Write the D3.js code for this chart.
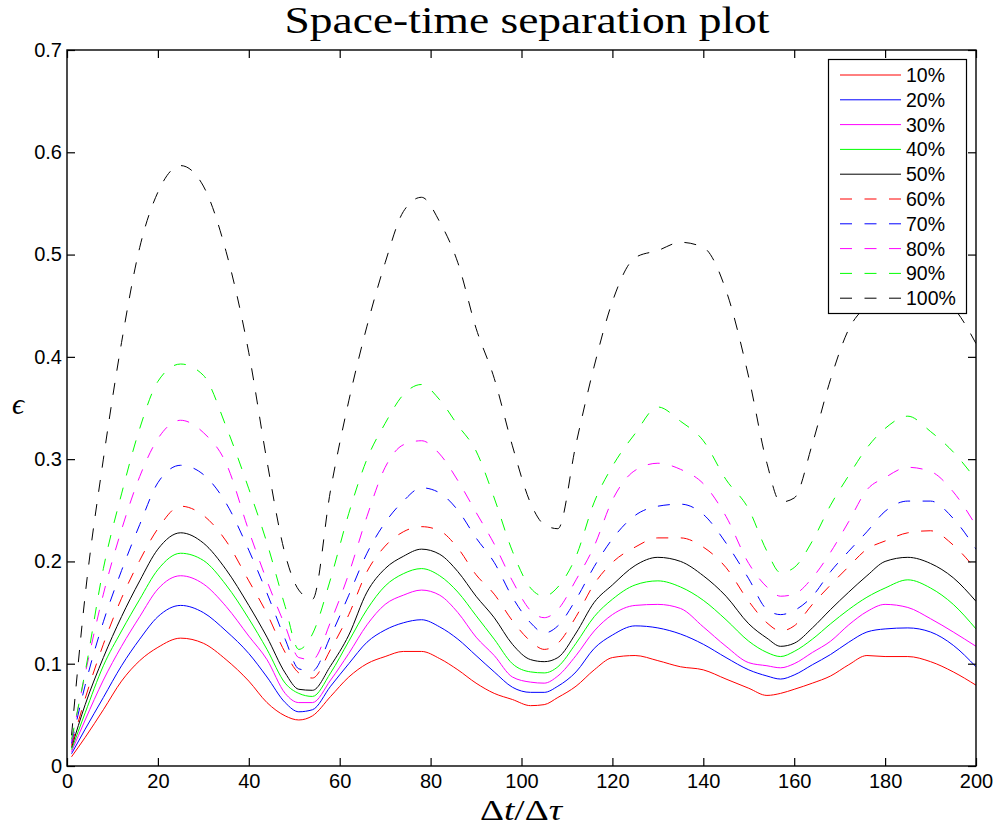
<!DOCTYPE html>
<html lang="en">
<head>
<meta charset="UTF-8">
<title>Space-time separation plot</title>
<style>
  body { margin: 0; background: #fff; }
  svg { display: block; background: #fff; }
  .tick text { font-family: "Liberation Sans", Arial, sans-serif; font-size: 20px; fill: #000; }
  .tick line { stroke: #000; stroke-width: 1.2; }
  .domain { display: none; }
  .legend text { font-family: "Liberation Sans", Arial, sans-serif; font-size: 19.5px; fill: #000; }
</style>
</head>
<body>
<svg id="chart" width="997" height="830"></svg>
<script src="https://cdn.jsdelivr.net/npm/d3@7"></script>
<script>
// sample positions (Δt/Δτ)
const xs = [1, 4, 8, 12, 16, 20, 25, 30, 35, 40, 44, 48, 51, 54, 58, 62, 66, 70, 74, 78,
  82, 86, 90, 94, 98, 102, 105, 108, 112, 116, 120, 125, 130, 135, 140, 145, 150, 154, 157, 160,
  164, 168, 172, 176, 180, 185, 190, 195, 200];

// epsilon values, one array per percentage
const p10 = [0.009, 0.028, 0.055, 0.083, 0.103, 0.116, 0.125, 0.120, 0.104, 0.083, 0.062, 0.049, 0.045, 0.049, 0.068, 0.087, 0.100, 0.107, 0.112, 0.112,
  0.105, 0.094, 0.081, 0.071, 0.065, 0.059, 0.060, 0.067, 0.078, 0.094, 0.106, 0.108, 0.103, 0.097, 0.094, 0.085, 0.076, 0.069, 0.071, 0.075,
  0.081, 0.088, 0.099, 0.108, 0.107, 0.107, 0.102, 0.092, 0.079];
const p20 = [0.012, 0.036, 0.067, 0.098, 0.124, 0.146, 0.157, 0.150, 0.132, 0.110, 0.087, 0.062, 0.053, 0.055, 0.078, 0.100, 0.121, 0.133, 0.140, 0.143,
  0.136, 0.124, 0.108, 0.092, 0.077, 0.072, 0.072, 0.078, 0.092, 0.115, 0.128, 0.137, 0.135, 0.129, 0.119, 0.106, 0.094, 0.088, 0.085, 0.089,
  0.099, 0.109, 0.121, 0.131, 0.134, 0.135, 0.131, 0.118, 0.097];
const p30 = [0.014, 0.045, 0.084, 0.117, 0.146, 0.173, 0.186, 0.178, 0.156, 0.127, 0.104, 0.071, 0.062, 0.062, 0.084, 0.110, 0.138, 0.158, 0.167, 0.172,
  0.167, 0.150, 0.126, 0.108, 0.087, 0.082, 0.081, 0.088, 0.108, 0.132, 0.148, 0.157, 0.158, 0.154, 0.136, 0.117, 0.101, 0.098, 0.096, 0.100,
  0.111, 0.122, 0.138, 0.151, 0.158, 0.155, 0.144, 0.131, 0.117];
const p40 = [0.016, 0.052, 0.098, 0.132, 0.163, 0.192, 0.208, 0.201, 0.177, 0.144, 0.114, 0.081, 0.071, 0.068, 0.091, 0.122, 0.153, 0.176, 0.188, 0.193,
  0.186, 0.170, 0.147, 0.124, 0.100, 0.092, 0.091, 0.097, 0.120, 0.146, 0.163, 0.177, 0.181, 0.175, 0.162, 0.143, 0.122, 0.111, 0.107, 0.112,
  0.124, 0.139, 0.153, 0.165, 0.174, 0.182, 0.174, 0.158, 0.134];
const p50 = [0.018, 0.060, 0.106, 0.146, 0.181, 0.212, 0.228, 0.218, 0.192, 0.157, 0.126, 0.091, 0.075, 0.074, 0.098, 0.128, 0.170, 0.193, 0.205, 0.212,
  0.207, 0.190, 0.166, 0.145, 0.119, 0.104, 0.102, 0.106, 0.130, 0.160, 0.177, 0.196, 0.204, 0.200, 0.186, 0.166, 0.139, 0.125, 0.117, 0.120,
  0.135, 0.153, 0.170, 0.186, 0.200, 0.204, 0.198, 0.184, 0.161];
const p60 = [0.020, 0.066, 0.119, 0.164, 0.201, 0.232, 0.254, 0.245, 0.220, 0.181, 0.149, 0.111, 0.091, 0.086, 0.114, 0.148, 0.190, 0.215, 0.229, 0.234,
  0.230, 0.213, 0.187, 0.168, 0.142, 0.122, 0.114, 0.120, 0.146, 0.178, 0.199, 0.214, 0.223, 0.223, 0.214, 0.194, 0.161, 0.140, 0.132, 0.137,
  0.158, 0.177, 0.195, 0.212, 0.220, 0.228, 0.230, 0.216, 0.192];
const p70 = [0.022, 0.079, 0.141, 0.191, 0.236, 0.277, 0.294, 0.285, 0.257, 0.211, 0.169, 0.124, 0.095, 0.093, 0.127, 0.167, 0.208, 0.238, 0.259, 0.272,
  0.267, 0.250, 0.223, 0.199, 0.165, 0.140, 0.130, 0.137, 0.163, 0.195, 0.222, 0.245, 0.254, 0.256, 0.246, 0.218, 0.183, 0.153, 0.148, 0.152,
  0.166, 0.190, 0.210, 0.229, 0.249, 0.259, 0.259, 0.242, 0.212];
const p80 = [0.024, 0.090, 0.168, 0.231, 0.283, 0.320, 0.338, 0.326, 0.296, 0.230, 0.181, 0.137, 0.106, 0.104, 0.141, 0.188, 0.244, 0.292, 0.314, 0.318,
  0.305, 0.279, 0.248, 0.217, 0.181, 0.152, 0.145, 0.153, 0.182, 0.215, 0.260, 0.289, 0.296, 0.290, 0.276, 0.244, 0.198, 0.175, 0.166, 0.168,
  0.184, 0.209, 0.239, 0.270, 0.282, 0.292, 0.288, 0.268, 0.235];
const p90 = [0.026, 0.092, 0.193, 0.266, 0.330, 0.376, 0.393, 0.382, 0.332, 0.271, 0.218, 0.156, 0.114, 0.129, 0.183, 0.247, 0.300, 0.335, 0.363, 0.373,
  0.358, 0.333, 0.308, 0.262, 0.210, 0.174, 0.166, 0.175, 0.205, 0.258, 0.293, 0.325, 0.351, 0.337, 0.318, 0.280, 0.251, 0.210, 0.189, 0.194,
  0.220, 0.255, 0.284, 0.311, 0.330, 0.342, 0.327, 0.307, 0.280];
const p100 = [0.030, 0.167, 0.300, 0.414, 0.507, 0.561, 0.587, 0.567, 0.503, 0.404, 0.298, 0.207, 0.172, 0.163, 0.270, 0.357, 0.430, 0.492, 0.542, 0.556,
  0.532, 0.492, 0.428, 0.379, 0.313, 0.257, 0.236, 0.232, 0.315, 0.391, 0.454, 0.497, 0.504, 0.512, 0.507, 0.465, 0.380, 0.296, 0.258, 0.262,
  0.315, 0.378, 0.427, 0.450, 0.462, 0.466, 0.460, 0.448, 0.413];

const labels = ["10%", "20%", "30%", "40%", "50%", "60%", "70%", "80%", "90%", "100%"];
const xTicks = [0, 20, 40, 60, 80, 100, 120, 140, 160, 180, 200];
const yTicks = [0, 0.1, 0.2, 0.3, 0.4, 0.5, 0.6, 0.7];

const values = [p10, p20, p30, p40, p50, p60, p70, p80, p90, p100];
const colors = ["#ff0000", "#0000ff", "#ff00ff", "#00ff00", "#000000"];
const series = values.map((v, i) => ({
  label: labels[i],
  color: colors[i % 5],
  dashed: i >= 5,
  points: xs.map((x, j) => [x, v[j]])
}));

const svg = d3.select("#chart");
const plotL = 67, plotR = 976, plotT = 50, plotB = 766;

const x = d3.scaleLinear().domain([0, 200]).range([plotL, plotR]);
const y = d3.scaleLinear().domain([0, 0.7]).range([plotB, plotT]);

svg.append("defs").append("clipPath").attr("id", "plotclip")
  .append("rect").attr("x", plotL).attr("y", plotT)
  .attr("width", plotR - plotL).attr("height", plotB - plotT);

// curves
const line = d3.line().x(d => x(d[0])).y(d => y(d[1])).curve(d3.curveMonotoneX);
const curves = svg.append("g").attr("clip-path", "url(#plotclip)");
series.forEach(s => {
  curves.append("path")
    .attr("d", line(s.points))
    .attr("fill", "none")
    .attr("stroke", s.color)
    .attr("stroke-width", 1)
    .attr("stroke-dasharray", s.dashed ? "12,12.5" : null);
});

// axes, ticks pointing inward on all four sides
const fmtY = d => d === 0 ? "0" : d.toFixed(1);
svg.append("g").attr("transform", `translate(0,${plotB})`)
  .call(d3.axisBottom(x).tickValues(xTicks).tickSizeInner(-8).tickSizeOuter(0).tickPadding(8));
svg.append("g").attr("transform", `translate(0,${plotT})`)
  .call(d3.axisTop(x).tickValues(xTicks).tickSizeInner(-8).tickSizeOuter(0).tickFormat(""));
svg.append("g").attr("transform", `translate(${plotL},0)`)
  .call(d3.axisLeft(y).tickValues(yTicks).tickSizeInner(-8).tickSizeOuter(0).tickPadding(5).tickFormat(fmtY));
svg.append("g").attr("transform", `translate(${plotR},0)`)
  .call(d3.axisRight(y).tickValues(yTicks).tickSizeInner(-8).tickSizeOuter(0).tickFormat(""));

svg.append("rect")
  .attr("x", plotL).attr("y", plotT)
  .attr("width", plotR - plotL).attr("height", plotB - plotT)
  .attr("fill", "none").attr("stroke", "#000").attr("stroke-width", 1.4);

// legend
const lg = svg.append("g").attr("class", "legend");
lg.append("rect")
  .attr("x", 828.5).attr("y", 59.5).attr("width", 138).attr("height", 254)
  .attr("fill", "#fff").attr("stroke", "#000").attr("stroke-width", 1.2);
series.forEach((s, i) => {
  const ry = 75 + i * 24.8;
  lg.append("line")
    .attr("x1", 840).attr("x2", 901).attr("y1", ry).attr("y2", ry)
    .attr("stroke", s.color).attr("stroke-width", 1)
    .attr("stroke-dasharray", s.dashed ? "12,12.5" : null);
  lg.append("text").attr("x", 906).attr("y", ry).attr("dy", "0.36em").text(s.label);
});

// title and axis labels
svg.append("text")
  .attr("x", 527).attr("y", 33).attr("text-anchor", "middle")
  .attr("textLength", 485).attr("lengthAdjust", "spacingAndGlyphs")
  .style("font-family", "'Liberation Serif', 'Times New Roman', serif")
  .style("font-size", "37px")
  .text("Space-time separation plot");

const xl = svg.append("text")
  .attr("x", 521).attr("y", 820).attr("text-anchor", "middle")
  .attr("textLength", 82).attr("lengthAdjust", "spacingAndGlyphs")
  .style("font-family", "'Liberation Serif', 'Times New Roman', serif")
  .style("font-size", "30px");
xl.append("tspan").text("Δ");
xl.append("tspan").style("font-style", "italic").text("t");
xl.append("tspan").text("/Δ");
xl.append("tspan").style("font-style", "italic").text("τ");

svg.append("text")
  .attr("x", 18).attr("y", 414).attr("text-anchor", "middle")
  .style("font-family", "'Liberation Serif', 'Times New Roman', serif")
  .style("font-size", "30px")
  .style("font-style", "italic")
  .text("ϵ");
</script>
</body>
</html>
